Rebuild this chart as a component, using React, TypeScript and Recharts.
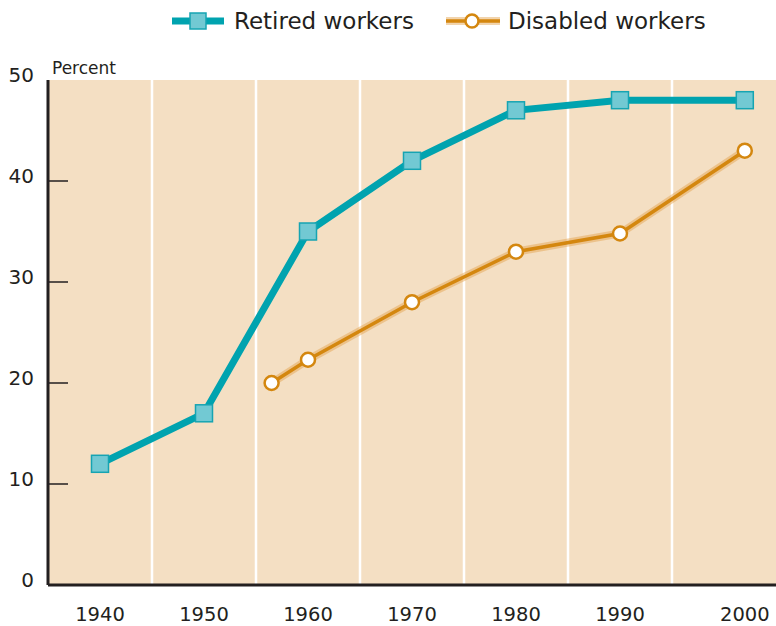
import React from "react";
import { LineChart, Line, XAxis, YAxis, CartesianGrid, ReferenceLine, Legend } from "recharts";

const retiredYears = [1940, 1950, 1960, 1970, 1980, 1990, 2002];
const retiredValues = [12, 17, 35, 42, 47, 48, 48];
const disabledYears = [1956.5, 1960, 1970, 1980, 1990, 2002];
const disabledValues = [20, 22.3, 28, 33, 34.8, 43];
const xTickValues = [1940, 1950, 1960, 1970, 1980, 1990, 2002];
const xTickLabels = ["1940", "1950", "1960", "1970", "1980", "1990", "2000"];
const yTicks = [0, 10, 20, 30, 40, 50];
const gridYears = [1945, 1955, 1965, 1975, 1985, 1995];

const retiredData = retiredYears.map((year, i) => ({ year, value: retiredValues[i] }));
const disabledData = disabledYears.map((year, i) => ({ year, value: disabledValues[i] }));

const FONT = "'DejaVu Sans', sans-serif";
const INK = "#231F20";
const TEAL = "#00A3AF";
const TEAL_FILL = "#72C9D3";
const ORANGE = "#D4870F";
const HALO = "rgba(226,160,70,0.45)";
const BG = "#F4DFC3";

const SquareDot = (props: any) => {
  const { cx, cy } = props;
  if (cx == null || cy == null) return null;
  return <rect x={cx - 8.5} y={cy - 8.5} width={17} height={17} fill={TEAL_FILL} stroke="#16A4B2" strokeWidth={1.5} />;
};

const CircleDot = (props: any) => {
  const { cx, cy } = props;
  if (cx == null || cy == null) return null;
  return <circle cx={cx} cy={cy} r={7} fill="#fff" stroke={ORANGE} strokeWidth={2.5} />;
};

const YTick = (props: any) => {
  const { x, y, payload } = props;
  const v = payload.value;
  return (
    <g>
      {v > 0 && v < 50 ? <line x1={x} x2={x + 20} y1={y} y2={y} stroke={INK} strokeWidth={1.5} /> : null}
      <text x={x - 14} y={y + 2} textAnchor="end" fontFamily={FONT} fontSize={20} fill={INK}>
        {v}
      </text>
    </g>
  );
};

const XTick = (props: any) => {
  const { x, y, payload } = props;
  const idx = xTickValues.indexOf(payload.value);
  return (
    <text x={x} y={y + 36} textAnchor="middle" fontFamily={FONT} fontSize={19.5} fill={INK}>
      {idx >= 0 ? xTickLabels[idx] : payload.value}
    </text>
  );
};

const LegendContent = () => (
  <div style={{ height: 40, display: "flex", alignItems: "center", fontFamily: FONT, fontSize: 23, color: INK, paddingLeft: 172, paddingTop: 2, boxSizing: "border-box" }}>
    <svg width={52} height={20} style={{ display: "block" }}>
      <line x1={0} x2={52} y1={10} y2={10} stroke={TEAL} strokeWidth={7} />
      <rect x={18} y={2} width={16} height={16} fill={TEAL_FILL} stroke="#16A4B2" strokeWidth={1.5} />
    </svg>
    <span style={{ marginLeft: 10, whiteSpace: "nowrap" }}>Retired workers</span>
    <svg width={54} height={20} style={{ display: "block", marginLeft: 32 }}>
      <line x1={0} x2={54} y1={10} y2={10} stroke={HALO} strokeWidth={8} />
      <line x1={0} x2={54} y1={10} y2={10} stroke={ORANGE} strokeWidth={3.5} />
      <circle cx={26} cy={10} r={6.5} fill="#fff" stroke={ORANGE} strokeWidth={2.5} />
    </svg>
    <span style={{ marginLeft: 8, whiteSpace: "nowrap" }}>Disabled workers</span>
  </div>
);

export default function App() {
  return (
    <div style={{ position: "absolute", left: 0, top: 0, width: 776, height: 626 }}>
      <LineChart width={776} height={626} margin={{ top: 40, right: 0, bottom: 0, left: 0 }}>
        <CartesianGrid fill={BG} stroke="none" horizontal={false} vertical={false} />
        <Legend
          verticalAlign="top"
          align="left"
          wrapperStyle={{ top: 0, left: 0, width: 776, height: 40 }}
          content={<LegendContent />}
        />
        {gridYears.map((g) => (
          <ReferenceLine key={g} x={g} stroke="#FFFFFF" strokeWidth={2.5} ifOverflow="extendDomain" />
        ))}
        <XAxis
          dataKey="year"
          type="number"
          domain={[1935, 2005]}
          ticks={xTickValues}
          allowDataOverflow
          height={41}
          axisLine={{ stroke: INK, strokeWidth: 3 }}
          tickLine={false}
          tickSize={0}
          tickMargin={0}
          tick={<XTick />}
          interval={0}
        />
        <YAxis
          type="number"
          domain={[0, 50]}
          ticks={yTicks}
          width={48}
          axisLine={{ stroke: INK, strokeWidth: 3 }}
          tickLine={false}
          tickSize={0}
          tickMargin={0}
          tick={<YTick />}
          interval={0}
          label={{
            content: (p: any) => {
              const vb = p.viewBox || { x: 0, y: 80, width: 48 };
              return (
                <text x={vb.x + vb.width + 4} y={vb.y - 6} fontFamily={FONT} fontSize={17} fill={INK}>
                  Percent
                </text>
              );
            },
          }}
        />
        <Line data={disabledData} dataKey="value" stroke={HALO} strokeWidth={8} dot={false} activeDot={false} isAnimationActive={false} legendType="none" />
        <Line data={disabledData} dataKey="value" name="Disabled workers" stroke={ORANGE} strokeWidth={3.5} dot={<CircleDot />} activeDot={false} isAnimationActive={false} />
        <Line data={retiredData} dataKey="value" name="Retired workers" stroke={TEAL} strokeWidth={7} dot={<SquareDot />} activeDot={false} isAnimationActive={false} />
      </LineChart>
    </div>
  );
}
